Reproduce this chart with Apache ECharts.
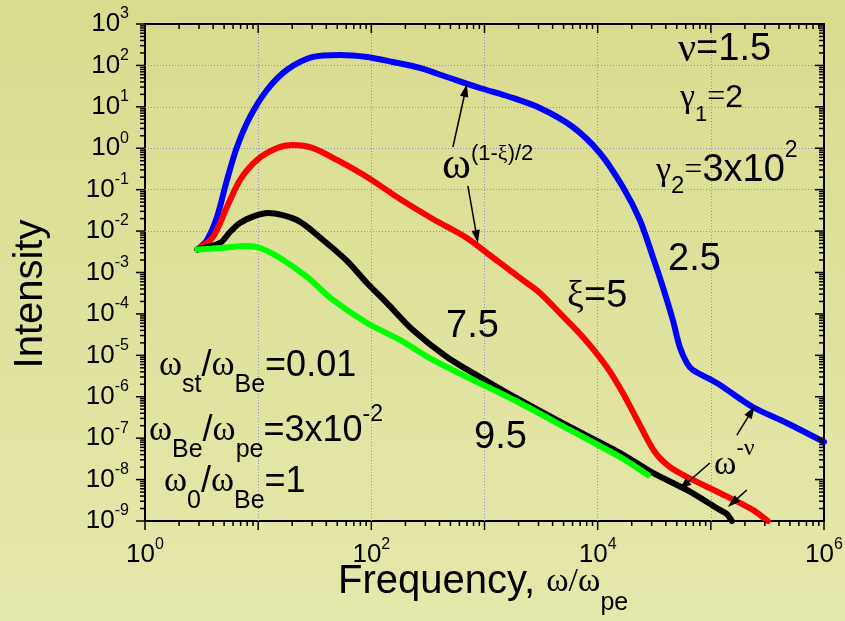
<!DOCTYPE html>
<html><head><meta charset="utf-8">
<script src="https://cdn.jsdelivr.net/npm/echarts@6/dist/echarts.min.js"></script>
<style>html,body{margin:0;padding:0;background:#e0e39e}#c{width:845px;height:621px}</style>
</head><body><div id="c"></div>
<script>
// ---- data ----
const blue25 = [[2.9,3.6e-3],[3.53,6.1e-3],[4.33,0.0219],[5.3,0.171],[6.5,1.07],[8.47,5.69],[11.96,25.5],[17.9,77.5],[30.5,160],[52.8,179],[91.5,160],[155,121],[269,86.7],[465,52.5],[911,28.5],[1676,17.3],[3086,9.38],[6040,3.26],[10450,0.769],[16700,0.116],[23600,0.0185],[30760,2.37e-3],[37670,4.47e-4],[46150,7.14e-5],[53200,1.59e-5],[61400,6.53e-6],[69300,4.43e-6],[113000,2.15e-6],[235000,5.66e-7],[469000,2.33e-7],[1e6,8.1e-8]];
const red5 = [[2.9,3.6e-3],[3.99,7.21e-3],[5.3,0.0382],[6.9,0.171],[9.76,0.521],[14.7,1.01],[20.3,1.2],[30.5,1.01],[49.7,0.521],[91.5,0.202],[179,0.0596],[350,0.0196],[699,6.81e-3],[1050,2.96e-3],[2055,7.38e-4],[3086,3.21e-4],[4634,1.05e-4],[7396,2.77e-5],[12050,5.24e-6],[16700,1.23e-6],[23600,2.08e-7],[32000,4.65e-8],[43400,2.02e-8],[61400,1.16e-8],[120200,4.75e-9],[235000,1.85e-9],[319000,1e-9]];
const black75 = [[2.9,3.6e-3],[4.6,5.16e-3],[5.64,9.5e-3],[6.9,0.0157],[9.37,0.0232],[12.2,0.0274],[22.0,0.0185],[37.4,6.1e-3],[60.9,1.9e-3],[91.5,5.58e-4],[137,1.84e-4],[233,4.09e-5],[465,9.12e-6],[911,3.0e-6],[2055,8.36e-7],[5680,1.86e-7],[15700,4.4e-8],[30760,1.45e-8],[61400,5.61e-9],[120200,1.85e-9],[138400,1.48e-9],[153400,1e-9]];
const green95 = [[2.9,3.6e-3],[4.6,3.91e-3],[7.96,4.37e-3],[10.4,3.91e-3],[15.6,2.24e-3],[27.0,7.8e-4],[45.8,2.17e-4],[91.5,6.04e-5],[179,2.35e-5],[350,7.73e-6],[699,3.0e-6],[2055,7.08e-7],[5680,1.58e-7],[15700,3.52e-8],[27800,1.29e-8]];
const seriesNames = ['ξ=2.5','ξ=5','ξ=7.5','ξ=9.5'];
const seriesColors = ['#0000ff','#ff0000','#000000','#00ff00'];
const xMajorTicks = [1,10,100,1e3,1e4,1e5,1e6];
const xTickLabels = [1,100,1e4,1e6];
const yMajorTicks = [1e-9,1e-8,1e-7,1e-6,1e-5,1e-4,1e-3,1e-2,1e-1,1,10,100,1000];
const yTickLabels = yMajorTicks;
// annotation arrows, in data coordinates [from, to]
const arrows = [
  [[526,1.07],[699,35.6]],
  [[713,0.123],[875,5.16e-3]],
  [[169800,1.19e-7],[244700,5.99e-7]],
  [[98000,2.52e-8],[52200,5.61e-9]],
  [[208000,5.61e-9],[141300,2.18e-9]]
];

// ---- helpers ----
const X_MIN=1, X_MAX=1e6, Y_MIN=1e-9, Y_MAX=1e3;
function minorTicks(lo, hi){ const r=[]; for(let k=lo;k<hi;k++){ for(let m=2;m<=9;m++) r.push(m*Math.pow(10,k)); } return r; }
const xMinor = minorTicks(0,6), yMinor = minorTicks(-9,3);
const MAJ=9, MIN=5;
const xTickItems = xMajorTicks.map(v=>[v,Y_MIN,MAJ]).concat(xMinor.map(v=>[v,Y_MIN,MIN]));
const yTickItems = yMajorTicks.map(v=>[X_MIN,v,MAJ]).concat(yMinor.map(v=>[X_MIN,v,MIN]));

const SANS='"Liberation Sans", Arial, sans-serif', SERIF='"Liberation Serif", "Times New Roman", serif';
function pow10Label(v){ const e=Math.round(Math.log10(v)); return '{a|10}{b|'+e+'}'; }
const tickRich = {
  a:{fontSize:26,fontFamily:SANS,color:'#000',lineHeight:30},
  b:{fontSize:16,fontFamily:SANS,color:'#000',lineHeight:30,padding:[0,0,20,0]}
};
function tok(size, fam, shift){ const s={font:size+'px '+fam, lineHeight:46}; if(shift>0) s.padding=[2*shift,0,0,0]; else if(shift<0) s.padding=[0,0,-2*shift,0]; return s; }
const R = {
  n38:tok(38,SANS,0), n32:tok(32,SANS,0), m36:tok(36,SANS,0), t40:tok(40,SANS,0),
  g40:tok(40,SERIF,0), g34:tok(34,SERIF,0), g36:tok(38,SERIF,0), g44:tok(44,SERIF,0), w34:tok(35,SERIF,0), w34t:tok(34,SERIF,0),
  e32:tok(32,SERIF,0),
  s22d17:tok(22,SANS,17), s24d15:tok(24,SANS,15), p22u20:tok(23,SANS,-20),
  sb24:tok(25,SANS,19), sp22:tok(23,SANS,-16),
  pu12:tok(22,SANS,-12), gpu12:tok(22,SERIF,-12),
  pu16:tok(22,SANS,-16), gpu16:tok(24,SERIF,-16),
  pe22:tok(25,SANS,21)
};
function T(x,y,text,extra){ return Object.assign({type:'text', x:x, y:y, z:50, silent:true, style:{text:text, rich:R, fill:'#000', align:'left', verticalAlign:'middle', textAlign:'left', textVerticalAlign:'middle'}}, extra||{}); }

const axisLineStyle = {color:'#000', width:2};
function mkAxis(kind, min, max, position, labels){
  const a = {type:'log', logBase:10, gridIndex:0, min:min, max:max, position:position,
    splitLine:{show:false}, minorTick:{show:false}, axisPointer:{show:false},
    axisLine:{show:true, onZero:false, lineStyle:axisLineStyle},
    axisTick:{show:false}, axisLabel:{show:false}};
  if(labels){
    a.axisLabel = {show:true, customValues:labels, formatter:pow10Label, rich:tickRich, margin: kind==='x'?19:16, showMinLabel:true, showMaxLabel:true};
  }
  return a;
}

const gridLines = [];
xMajorTicks.slice(1,-1).forEach(v=>gridLines.push({xAxis:v}));
yMajorTicks.slice(1,-1).forEach(v=>gridLines.push({yAxis:v}));

const datasets = [blue25, red5, black75, green95];
const series = datasets.map((d,i)=>({
  name:seriesNames[i], type:'line', data:d, xAxisIndex:0, yAxisIndex:0, showSymbol:false, symbol:'none',
  smooth:0.3, z:2+i, lineStyle:{color:seriesColors[i], width:6, cap:'round', join:'round'},
  emphasis:{disabled:true}, animation:false
}));
series[0].markLine = {silent:true, z:1, symbol:['none','none'], animation:false, label:{show:false},
  lineStyle:{color:'#8a8ad0', type:[1,2], width:1}, emphasis:{disabled:true}, data:gridLines};

const tickStyle = {stroke:'#000', lineWidth:1.5};
series.push({
  type:'custom', name:'xticks', coordinateSystem:'cartesian2d', xAxisIndex:0, yAxisIndex:0, data:xTickItems,
  encode:{x:0,y:1}, clip:false, silent:true, z:10, animation:false,
  renderItem:function(params, api){
    const v=api.value(0), len=api.value(2);
    const b=api.coord([v,Y_MIN]), t=api.coord([v,Y_MAX]);
    return {type:'group', children:[
      {type:'line', shape:{x1:b[0],y1:b[1],x2:b[0],y2:b[1]+len}, style:tickStyle},
      {type:'line', shape:{x1:t[0],y1:t[1],x2:t[0],y2:t[1]+len}, style:tickStyle}
    ]};
  }
});
series.push({
  type:'custom', name:'yticks', coordinateSystem:'cartesian2d', xAxisIndex:0, yAxisIndex:0, data:yTickItems,
  encode:{x:0,y:1}, clip:false, silent:true, z:10, animation:false,
  renderItem:function(params, api){
    const v=api.value(1), len=api.value(2);
    const l=api.coord([X_MIN,v]), r=api.coord([X_MAX,v]);
    return {type:'group', children:[
      {type:'line', shape:{x1:l[0]-len,y1:l[1],x2:l[0],y2:l[1]}, style:tickStyle},
      {type:'line', shape:{x1:r[0]-len,y1:r[1],x2:r[0],y2:r[1]}, style:tickStyle}
    ]};
  }
});
series.push({
  type:'custom', name:'arrows', coordinateSystem:'cartesian2d', xAxisIndex:0, yAxisIndex:0,
  data:arrows.map(a=>[a[0][0],a[0][1],a[1][0],a[1][1]]),
  encode:{x:[0,2],y:[1,3]}, clip:false, silent:true, z:20, animation:false,
  renderItem:function(params, api){
    const p1=api.coord([api.value(0),api.value(1)]), p2=api.coord([api.value(2),api.value(3)]);
    const dx=p2[0]-p1[0], dy=p2[1]-p1[1], L=Math.hypot(dx,dy), ux=dx/L, uy=dy/L;
    const hl=13, hw=4.2;
    const bx=p2[0]-ux*hl, by=p2[1]-uy*hl;
    return {type:'group', children:[
      {type:'line', shape:{x1:p1[0],y1:p1[1],x2:bx+ux*2,y2:by+uy*2}, style:{stroke:'#000', lineWidth:1.5}},
      {type:'polygon', shape:{points:[[p2[0],p2[1]],[bx-uy*hw,by+ux*hw],[bx+uy*hw,by-ux*hw]]}, style:{fill:'#000'}}
    ]};
  }
});

const chart = echarts.init(document.getElementById('c'), null, {renderer:'canvas'});
chart.setOption({
  animation:false,
  backgroundColor: new echarts.graphic.LinearGradient(0,0,0,1,[{offset:0,color:'#d9dc8e'},{offset:1,color:'#e5e8ab'}]),
  grid:{left:145, top:24, right:21, bottom:100, containLabel:false, outerBoundsMode:'none'},
  xAxis:[ mkAxis('x',X_MIN,X_MAX,'bottom',xTickLabels), mkAxis('x',X_MIN,X_MAX,'top',null) ],
  yAxis:[ mkAxis('y',Y_MIN,Y_MAX,'left',yTickLabels), mkAxis('y',Y_MIN,Y_MAX,'right',null) ],
  series: series,
  graphic:[
    T(678,50,'{g40|ν}{n38|=1.5}'),
    T(680,98,'{g34|γ}{s22d17|1}{e32|=}{n32|2}'),
    T(656,171,'{g34|γ}{s24d15|2}{e32|=}{n38|3x10}{p22u20|2}'),
    T(668,260,'{n38|2.5}'),
    T(567,297,'{g36|ξ}{n38|=5}'),
    T(446,327,'{n38|7.5}'),
    T(474,438,'{n38|9.5}'),
    T(442,166,'{g44|ω}{pu12|(1-}{gpu12|ξ}{pu12|)/2}'),
    T(714,465,'{w34t|ω}{pu16|-}{gpu16|ν}'),
    T(159,366,'{w34|ω}{sb24|st}{m36|/}{w34|ω}{sb24|Be}{m36|=0.01}'),
    T(149,431,'{w34|ω}{sb24|Be}{m36|/}{w34|ω}{sb24|pe}{m36|=3x10}{sp22|-2}'),
    T(164,482,'{w34|ω}{sb24|0}{m36|/}{w34|ω}{sb24|Be}{m36|=1}'),
    T(338,582,'{t40|Frequency, }{w34t|ω/ω}{pe22|pe}'),
    T(31,294,'',{rotation:Math.PI/2, style:{text:'{t40|Intensity}', rich:R, fill:'#000', align:'center', verticalAlign:'middle', textAlign:'center', textVerticalAlign:'middle'}})
  ]
});
</script></body></html>
